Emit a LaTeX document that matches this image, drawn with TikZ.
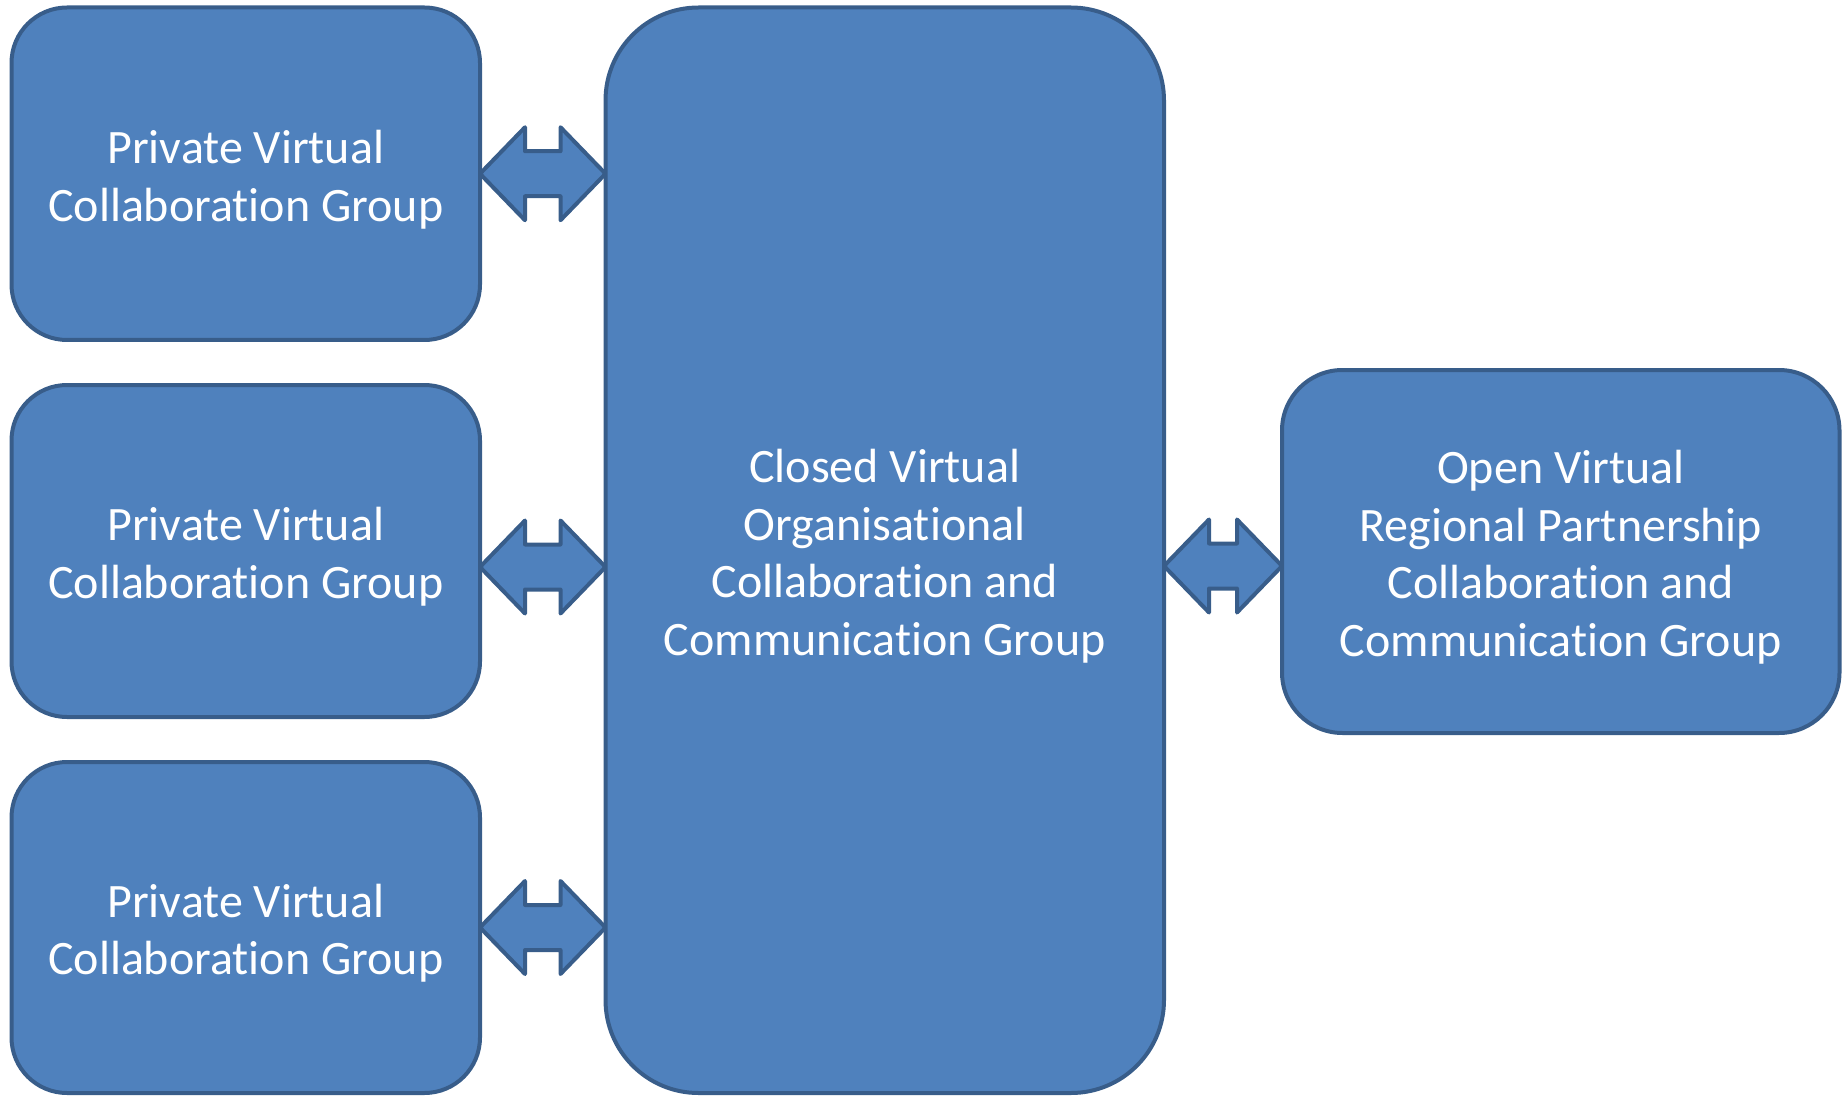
\documentclass[tikz,border=0pt]{standalone}
\usepackage{fontspec}
\setmainfont{Carlito}[Ligatures={NoCommon,NoContextual,NoRequired}]
\usetikzlibrary{calc}
\definecolor{boxfill}{HTML}{4F81BD}
\definecolor{boxline}{HTML}{385D8A}
\newcommand\toplift{\rule{0pt}{45pt}}
\tikzset{
  grp/.style={draw=boxline, fill=boxfill, line width=4pt, inner sep=0pt, outer sep=0pt,
    text=white, align=center, font=\fontsize{48}{57.5}\selectfont},
  dblarr/.style={draw=boxline, fill=boxfill, line width=4pt, line join=round}
}
\newcommand\dblarrow[2]{%
  \draw[dblarr] let \p1=(#1), \p2=(#2) in
    (\p1) -- ++(45pt,46.5pt) -- ++(0pt,-24pt) -- (\x2-45pt,\y1+22.5pt) -- ++(0pt,24pt)
    -- (\p2) -- ++(-45pt,-46.5pt) -- ++(0pt,24pt) -- (\x1+45pt,\y1-22.5pt) -- ++(0pt,-24pt) -- cycle;}
\begin{document}
\begin{tikzpicture}[x=1pt,y=-1pt]
\useasboundingbox (0,0) rectangle (1845,1099);
\node[grp, minimum width=468.5pt, minimum height=332.5pt, rounded corners=55.5pt] (p1) at (245.75,173.75) {\toplift Private Virtual\\Collaboration Group};
\node[grp, minimum width=468.5pt, minimum height=332pt, rounded corners=55.5pt] (p2) at (245.75,551) {\toplift Private Virtual\\Collaboration Group};
\node[grp, minimum width=468.5pt, minimum height=331pt, rounded corners=55.5pt] (p3) at (245.75,927.5) {\toplift Private Virtual\\Collaboration Group};
\node[grp, minimum width=558.5pt, minimum height=1085.5pt, rounded corners=93pt] (c) at (884.75,550.25) {\toplift Closed Virtual\\Organisational\\Collaboration and\\Communication Group};
\node[grp, minimum width=557.5pt, minimum height=363pt, rounded corners=60.5pt] (o) at (1560.75,551.5) {\toplift Open Virtual\\Regional Partnership\\Collaboration and\\Communication Group};
\coordinate (a1l) at (p1.east);
\coordinate (a1r) at (c.west |- p1.east);
\coordinate (a2l) at (p2.east |- 0,567);
\coordinate (a2r) at (c.west |- 0,567);
\coordinate (a3l) at (p3.east);
\coordinate (a3r) at (c.west |- p3.east);
\coordinate (a4l) at (c.east |- 0,566);
\coordinate (a4r) at (o.west |- 0,566);
\dblarrow{a1l}{a1r}
\dblarrow{a2l}{a2r}
\dblarrow{a3l}{a3r}
\dblarrow{a4l}{a4r}
\end{tikzpicture}
\end{document}
